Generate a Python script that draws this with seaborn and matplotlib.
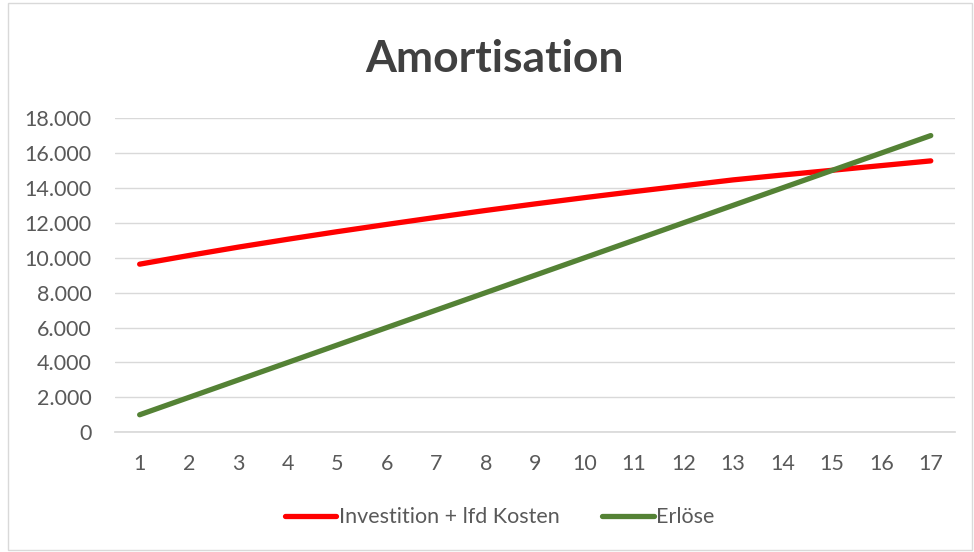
import matplotlib
matplotlib.use("Agg")
import matplotlib.pyplot as plt
import matplotlib.ticker as mticker
from matplotlib.patches import Rectangle
from matplotlib.lines import Line2D
import seaborn as sns
import pandas as pd

periods = list(range(1, 18))
kosten = [9630, 10130, 10610, 11060, 11495, 11910, 12315, 12710, 13085,
          13445, 13790, 14125, 14460, 14740, 15010, 15280, 15550]
erloese = [1000, 2000, 3000, 4000, 5000, 6000, 7000, 8000, 9000,
           10000, 11000, 12000, 13000, 14000, 15000, 16000, 17000]
series_names = ["Investition + lfd Kosten", "Erlöse"]
colors = ["#FF0000", "#548235"]

df = pd.DataFrame({
    "Periode": periods * 2,
    "Wert": kosten + erloese,
    "Serie": [series_names[0]] * len(periods) + [series_names[1]] * len(periods),
})

sns.set_theme(style="white")
plt.rcParams["font.family"] = ["Lato", "DejaVu Sans"]

fig = plt.figure(figsize=(9.74, 5.52), dpi=100)
fig.patches.append(Rectangle((0.008, 0.004), 0.99, 0.99, transform=fig.transFigure,
                             fill=False, edgecolor="#D9D9D9", linewidth=1.0))
ax = fig.add_axes([0.118, 0.217, 0.863, 0.569])

sns.lineplot(data=df, x="Periode", y="Wert", hue="Serie", palette=colors,
             linewidth=3.8, ax=ax, legend=False, solid_capstyle="round")

ax.set_xlim(0.5, 17.5)
ax.set_ylim(0, 18000)
ax.set_xticks(periods)
ax.set_yticks(range(0, 18001, 2000))
ax.yaxis.set_major_formatter(mticker.FuncFormatter(lambda v, p: f"{int(v):,}".replace(",", ".")))
ax.grid(axis="y", color="#D9D9D9", linewidth=1.0)
ax.set_axisbelow(True)
for s in ax.spines.values():
    s.set_visible(False)
ax.spines["bottom"].set_visible(True)
ax.spines["bottom"].set_color("#D9D9D9")
ax.tick_params(axis="both", length=0, labelsize=15.5, labelcolor="#595959")
ax.tick_params(axis="x", pad=16)
ax.tick_params(axis="y", pad=17)
ax.set_xlabel("")
ax.set_ylabel("")

fig.text(0.508, 0.893, "Amortisation", ha="center", va="center", fontsize=32,
         fontweight="bold", color="#404040")

handles = [Line2D([0], [0], color=c, linewidth=3.8, solid_capstyle="round") for c in colors]
fig.legend(handles, series_names, loc="center", bbox_to_anchor=(0.513, 0.063), ncol=2,
           frameon=False, fontsize=15.5, labelcolor="#595959", handlelength=2.4,
           handletextpad=0.1, columnspacing=2.0)

fig.savefig("out.png", dpi=100)
